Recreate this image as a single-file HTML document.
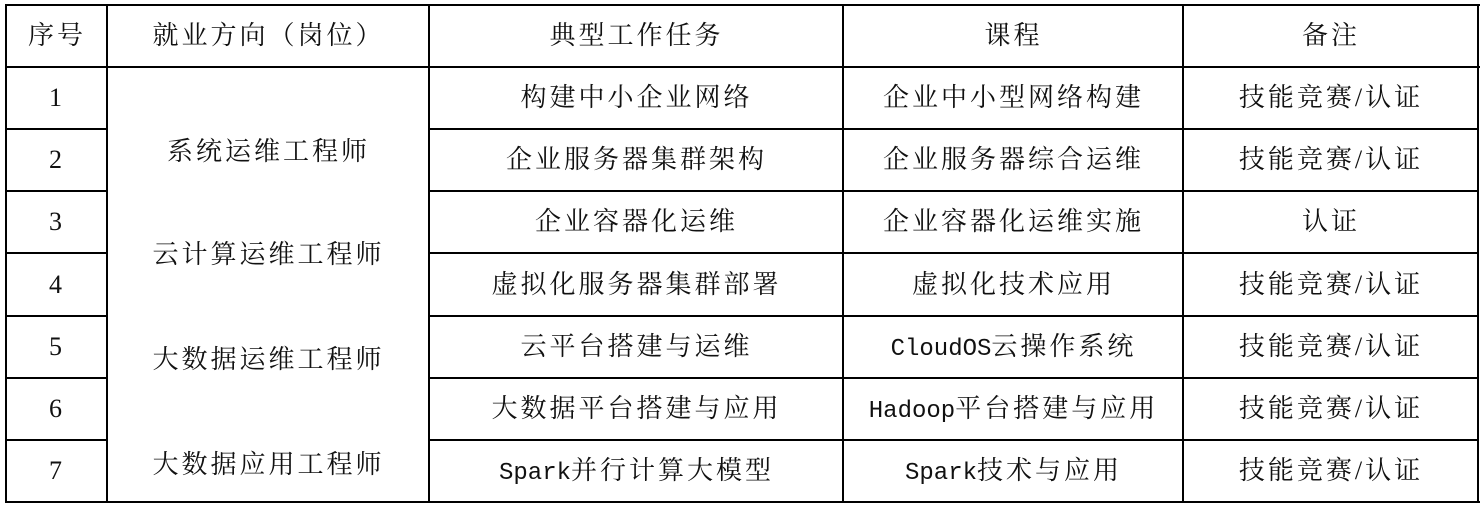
<!DOCTYPE html>
<html><head><meta charset="utf-8"><style>
body{margin:0;width:1482px;height:507px;background:#fff;position:relative;overflow:hidden;font-family:"Liberation Serif","Noto Serif CJK SC",serif;font-size:26px;color:#111}
.l{position:absolute;background:#000}
.t{position:absolute;text-align:center;line-height:30px;white-space:nowrap;letter-spacing:3px}
.m{font-family:"Liberation Mono",monospace;font-size:24px;letter-spacing:0}
</style></head><body>
<div class="l" style="left:5px;top:4px;width:1475px;height:2px"></div>
<div class="l" style="left:5px;top:501px;width:1475px;height:2px"></div>
<div class="l" style="left:5px;top:4px;width:2px;height:499px"></div>
<div class="l" style="left:1477px;top:4px;width:2px;height:499px"></div>
<div class="l" style="left:106px;top:4px;width:2px;height:499px"></div>
<div class="l" style="left:428px;top:4px;width:2px;height:499px"></div>
<div class="l" style="left:842px;top:4px;width:2px;height:499px"></div>
<div class="l" style="left:1182px;top:4px;width:2px;height:499px"></div>
<div class="l" style="left:5px;top:66px;width:1475px;height:2px"></div>
<div class="l" style="left:5px;top:128px;width:102px;height:2px"></div><div class="l" style="left:428px;top:128px;width:1051px;height:2px"></div>
<div class="l" style="left:5px;top:190px;width:102px;height:2px"></div><div class="l" style="left:428px;top:190px;width:1051px;height:2px"></div>
<div class="l" style="left:5px;top:252px;width:102px;height:2px"></div><div class="l" style="left:428px;top:252px;width:1051px;height:2px"></div>
<div class="l" style="left:5px;top:315px;width:102px;height:2px"></div><div class="l" style="left:428px;top:315px;width:1051px;height:2px"></div>
<div class="l" style="left:5px;top:377px;width:102px;height:2px"></div><div class="l" style="left:428px;top:377px;width:1051px;height:2px"></div>
<div class="l" style="left:5px;top:439px;width:102px;height:2px"></div><div class="l" style="left:428px;top:439px;width:1051px;height:2px"></div>

<div class="t" style="left:7px;width:100px;top:21px">序号</div>
<div class="t" style="left:108px;width:321px;top:21px">就业方向（岗位）</div>
<div class="t" style="left:430px;width:413px;top:21px">典型工作任务</div>
<div class="t" style="left:844px;width:339px;top:21px">课程</div>
<div class="t" style="left:1184px;width:294px;top:21px">备注</div>

<div class="t" style="left:108px;width:321px;top:137px">系统运维工程师</div>
<div class="t" style="left:108px;width:321px;top:240px">云计算运维工程师</div>
<div class="t" style="left:108px;width:321px;top:345px">大数据运维工程师</div>
<div class="t" style="left:108px;width:321px;top:450px">大数据应用工程师</div>

<div class="t" style="left:7px;width:100px;top:83px">1</div>
<div class="t" style="left:430px;width:413px;top:83px">构建中小企业网络</div>
<div class="t" style="left:844px;width:339px;top:83px">企业中小型网络构建</div>
<div class="t" style="left:1184px;width:294px;top:83px">技能竞赛/认证</div>

<div class="t" style="left:7px;width:100px;top:145px">2</div>
<div class="t" style="left:430px;width:413px;top:145px">企业服务器集群架构</div>
<div class="t" style="left:844px;width:339px;top:145px">企业服务器综合运维</div>
<div class="t" style="left:1184px;width:294px;top:145px">技能竞赛/认证</div>

<div class="t" style="left:7px;width:100px;top:207px">3</div>
<div class="t" style="left:430px;width:413px;top:207px">企业容器化运维</div>
<div class="t" style="left:844px;width:339px;top:207px">企业容器化运维实施</div>
<div class="t" style="left:1184px;width:294px;top:207px">认证</div>

<div class="t" style="left:7px;width:100px;top:270px">4</div>
<div class="t" style="left:430px;width:413px;top:270px">虚拟化服务器集群部署</div>
<div class="t" style="left:844px;width:339px;top:270px">虚拟化技术应用</div>
<div class="t" style="left:1184px;width:294px;top:270px">技能竞赛/认证</div>

<div class="t" style="left:7px;width:100px;top:332px">5</div>
<div class="t" style="left:430px;width:413px;top:332px">云平台搭建与运维</div>
<div class="t" style="left:844px;width:339px;top:332px"><span class="m">CloudOS</span>云操作系统</div>
<div class="t" style="left:1184px;width:294px;top:332px">技能竞赛/认证</div>

<div class="t" style="left:7px;width:100px;top:394px">6</div>
<div class="t" style="left:430px;width:413px;top:394px">大数据平台搭建与应用</div>
<div class="t" style="left:844px;width:339px;top:394px"><span class="m">Hadoop</span>平台搭建与应用</div>
<div class="t" style="left:1184px;width:294px;top:394px">技能竞赛/认证</div>

<div class="t" style="left:7px;width:100px;top:456px">7</div>
<div class="t" style="left:430px;width:413px;top:456px"><span class="m">Spark</span>并行计算大模型</div>
<div class="t" style="left:844px;width:339px;top:456px"><span class="m">Spark</span>技术与应用</div>
<div class="t" style="left:1184px;width:294px;top:456px">技能竞赛/认证</div>
</body></html>
